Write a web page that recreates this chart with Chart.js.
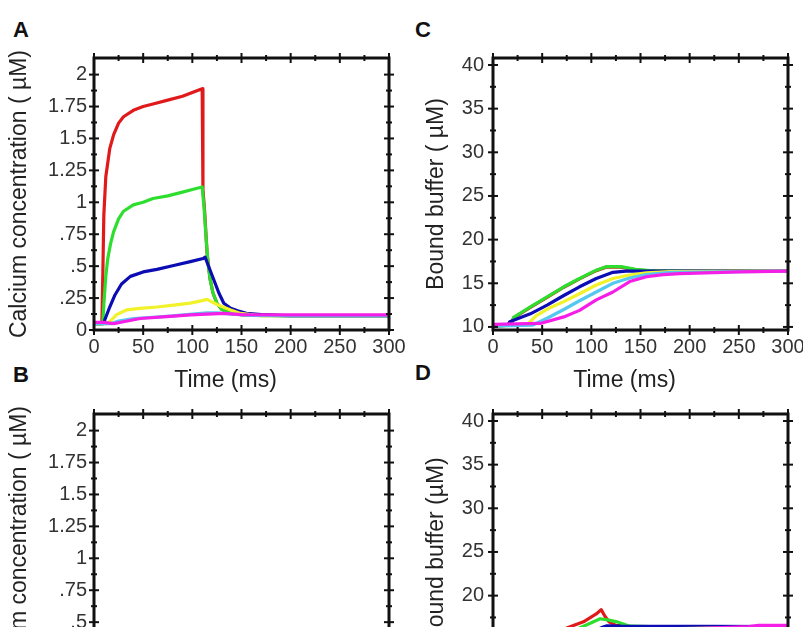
<!DOCTYPE html>
<html><head><meta charset="utf-8">
<script src="https://cdn.jsdelivr.net/npm/chart.js@4/dist/chart.umd.min.js"></script>
<style>
html,body{margin:0;padding:0;background:#fff;width:803px;height:627px;overflow:hidden;position:relative}
canvas{position:absolute}
.lbl{position:absolute;font:bold 22px "Liberation Sans",Arial,sans-serif;line-height:22px;color:#111}
</style></head><body>
<div class="lbl" style="left:13px;top:19px">A</div>
<div class="lbl" style="left:415px;top:19px">C</div>
<div class="lbl" style="left:13px;top:364px">B</div>
<div class="lbl" style="left:415px;top:362px">D</div>
<canvas id="cA" width="412" height="400" style="left:0;top:0"></canvas>
<canvas id="cC" width="415" height="400" style="left:400px;top:0"></canvas>
<canvas id="cB" width="412" height="400" style="left:0;top:356px"></canvas>
<canvas id="cD" width="415" height="400" style="left:400px;top:356px"></canvas>
<script>
// ---- tick values & labels ----
const timeTicks = [0,25,50,75,100,125,150,175,200,225,250,275,300];
const timeTickLabels = ['0','','50','','100','','150','','200','','250','','300'];
const calciumTicks = [0,0.125,0.25,0.375,0.5,0.625,0.75,0.875,1,1.125,1.25,1.375,1.5,1.625,1.75,1.875,2];
const calciumTickLabels = ['0','','.25','','.5','','.75','','1','','1.25','','1.5','','1.75','','2'];
const bufferTicks = [10,12.5,15,17.5,20,22.5,25,27.5,30,32.5,35,37.5,40];
const bufferTickLabels = ['10','','15','','20','','25','','30','','35','','40'];

// ---- Panel A: calcium concentration ----
const caRedT = [0,8,9,10,12,16,20,25,30,40,50,60,75,90,100,110,110.8,112.5,115,118,121,125,130,140,150,200,300];
const caRedV = [0.05,0.05,0.45,0.9,1.2,1.42,1.53,1.62,1.67,1.72,1.75,1.77,1.80,1.83,1.86,1.89,1.1,0.93,0.6,0.4,0.29,0.21,0.16,0.13,0.12,0.11,0.11];
const caGreenT = [0,9,10,12,14,17,20,25,30,40,50,60,75,90,100,110,112,114,116,118,121,125,130,140,150,200,300];
const caGreenV = [0.05,0.05,0.2,0.42,0.56,0.68,0.77,0.87,0.93,0.98,1.0,1.03,1.05,1.08,1.1,1.12,0.95,0.72,0.52,0.4,0.29,0.21,0.16,0.13,0.12,0.11,0.11];
const caBlueT = [0,10,11,16,21,28,37,50,64,81,98,111,113,118,123,127,132,139,146,155,170,200,300];
const caBlueV = [0.05,0.05,0.08,0.18,0.27,0.36,0.42,0.455,0.475,0.505,0.535,0.56,0.57,0.47,0.37,0.29,0.21,0.17,0.15,0.13,0.12,0.11,0.11];
const caYellowT = [0,14,16,23,33,47,64,81,98,110,115,125,139,149,170,300];
const caYellowV = [0.05,0.05,0.065,0.12,0.157,0.17,0.18,0.195,0.21,0.23,0.24,0.2,0.157,0.13,0.11,0.11];
const caCyanT = [0,18,25,40,60,80,100,115,125,140,160,200,300];
const caCyanV = [0.05,0.05,0.07,0.09,0.1,0.11,0.125,0.135,0.135,0.125,0.115,0.11,0.11];
const caMagentaT = [0,10,20,30,47,74,98,115,132,150,200,300];
const caMagentaV = [0.06,0.06,0.05,0.065,0.09,0.105,0.118,0.125,0.13,0.12,0.118,0.118];

// ---- Panel C: bound buffer ----
const buRedT = [0,18,21,38,55,72,88,105,115,130,145,160,200,300];
const buRedV = [10.1,10.2,11.05,12.25,13.4,14.55,15.5,16.45,16.85,16.85,16.55,16.4,16.4,16.4];
const buGreenT = [0,18,21,38,55,72,88,105,115,130,145,160,200,300];
const buGreenV = [10.1,10.2,11.1,12.3,13.45,14.6,15.55,16.5,16.9,16.9,16.6,16.45,16.4,16.4];
const buBlueT = [0,15,17,38,55,72,88,105,122,135,160,300];
const buBlueV = [10.1,10.2,10.6,11.5,12.5,13.6,14.6,15.55,16.25,16.4,16.4,16.4];
const buYellowT = [0,35,44,58,72,88,105,122,139,156,180,300];
const buYellowV = [10.1,10.3,11.3,12.2,12.9,13.8,14.8,15.55,15.95,16.2,16.35,16.4];
const buCyanT = [0,40,55,72,88,105,122,139,156,180,300];
const buCyanV = [10.1,10.2,11.0,12.0,13.0,14.0,15.0,15.6,16.0,16.25,16.4];
const buMagentaT = [0,48,72,88,105,122,139,156,173,190,250,300];
const buMagentaV = [10.3,10.4,11.15,11.9,13.1,14.0,15.2,15.75,16.0,16.1,16.3,16.4];

// ---- Panel D: bound buffer (second condition) ----
const bdRedT = [0,20,50,75,92,105,110,114,118,125,140,300];
const bdRedV = [10.1,11,14,16.3,17.0,17.9,18.4,17.6,17.0,16.6,16.45,16.45];
const bdGreenT = [0,25,60,88,100,109,118,126,139,160,300];
const bdGreenV = [10.1,11,14.5,16.3,16.9,17.35,17.2,17.0,16.5,16.45,16.45];
const bdBlueT = [0,30,70,100,112,116,130,300];
const bdBlueV = [10.1,11,14,15.8,16.4,16.55,16.5,16.45];
const bdYellowT = [0,40,90,130,170,300];
const bdYellowV = [10.1,10.8,13.5,15.5,16.2,16.4];
const bdCyanT = [0,45,100,140,180,300];
const bdCyanV = [10.1,10.6,13.0,15.2,16.1,16.4];
const bdMagentaT = [0,50,100,150,200,260,270,300];
const bdMagentaV = [10.1,10.5,12.5,15.0,16.2,16.45,16.6,16.6];

const colMagenta = '#f41ee6', colCyan = '#55c8f0', colYellow = '#f2f22a',
      colBlue = '#0c0cb4', colGreen = '#2ede2e', colRed = '#e01a1a';

Chart.defaults.font.family = '"Liberation Sans", Arial, Helvetica, sans-serif';
Chart.defaults.color = '#333';

function series(t, v, color) {
  return { data: t.map((x, i) => ({x: x, y: v[i]})), borderColor: color, backgroundColor: color,
           borderWidth: 3.2, pointRadius: 0, tension: 0, fill: false,
           borderCapStyle: 'round', borderJoinStyle: 'round' };
}

const framePlugin = {
  id: 'frame',
  afterDatasetsDraw(chart) {
    const {ctx, chartArea: a, scales: {x, y}} = chart;
    ctx.save();
    ctx.strokeStyle = '#111';
    ctx.lineWidth = 3;
    ctx.strokeRect(a.left, a.top, a.right - a.left, a.bottom - a.top);
    ctx.lineWidth = 2;
    const seg = (x1, y1, x2, y2) => { ctx.beginPath(); ctx.moveTo(x1, y1); ctx.lineTo(x2, y2); ctx.stroke(); };
    x.ticks.forEach(t => {
      const px = x.getPixelForValue(t.value); const L = t.label ? 5 : 3;
      seg(px, a.top - L, px, a.top + L); seg(px, a.bottom - L, px, a.bottom + L);
    });
    y.ticks.forEach(t => {
      const py = y.getPixelForValue(t.value); const L = t.label ? 5 : 3;
      seg(a.left - L, py, a.left + L, py); seg(a.right - L, py, a.right + L, py);
    });
    ctx.restore();
  }
};

function makePanel(id, datasets, p) {
  const canvas = document.getElementById(id);
  const W = canvas.width, H = canvas.height;
  new Chart(canvas, {
    type: 'line',
    data: { datasets: datasets },
    plugins: [framePlugin],
    options: {
      responsive: false, animation: false, devicePixelRatio: 1,
      layout: { padding: { left: 0, top: 58, right: W - p.right, bottom: 0 } },
      plugins: { legend: { display: false }, tooltip: { enabled: false } },
      scales: {
        x: {
          type: 'linear', min: 0, max: 300,
          afterBuildTicks: s => { s.ticks = timeTicks.map(v => ({value: v})); },
          afterFit: s => { s.height = H - 330; s.paddingLeft = 0; s.paddingRight = 0; },
          ticks: { autoSkip: false, maxRotation: 0, padding: 5, color: '#333',
                   font: { size: 20 }, callback: (v, i) => timeTickLabels[i] },
          grid: { display: false, drawTicks: false, tickLength: 0 },
          border: { display: false },
          title: { display: true, text: 'Time (ms)\u00a0\u00a0\u00a0\u00a0\u00a0', color: '#222', font: { size: 23 }, padding: { top: 0, bottom: 6 } }
        },
        y: {
          type: 'linear', min: p.yMin, max: p.yMax,
          afterBuildTicks: s => { s.ticks = p.yTicks.map(v => ({value: v})); },
          afterFit: s => { s.width = p.left; s.paddingTop = 0; s.paddingBottom = 0; },
          ticks: { autoSkip: false, padding: p.tickPad, color: '#333',
                   font: { size: 20 }, callback: (v, i) => p.yLabels[i] },
          grid: { display: false, drawTicks: false, tickLength: 0 },
          border: { display: false },
          title: { display: true, text: p.yTitle, color: '#222', font: { size: 23 }, padding: { top: p.titlePad, bottom: 0 } }
        }
      }
    }
  });
}

const calciumPanel = { left: 94, right: 389, yMin: 0, yMax: 2.13, yTicks: calciumTicks, yLabels: calciumTickLabels,
                       yTitle: 'Calcium concentration ( \u00b5M)', tickPad: 7, titlePad: 6 };
const bufferPanelC = { left: 93, right: 388, yMin: 9.65, yMax: 40.8, yTicks: bufferTicks, yLabels: bufferTickLabels,
                       yTitle: 'Bound buffer ( \u00b5M)', tickPad: 9, titlePad: 23 };
const bufferPanelD = Object.assign({}, bufferPanelC, { yTitle: 'Bound buffer (\u00b5M)' });

makePanel('cA', [
  series(caMagentaT, caMagentaV, colMagenta),
  series(caCyanT, caCyanV, colCyan),
  series(caYellowT, caYellowV, colYellow),
  series(caBlueT, caBlueV, colBlue),
  series(caGreenT, caGreenV, colGreen),
  series(caRedT, caRedV, colRed)
], calciumPanel);

makePanel('cC', [
  series(buMagentaT, buMagentaV, colMagenta),
  series(buCyanT, buCyanV, colCyan),
  series(buYellowT, buYellowV, colYellow),
  series(buBlueT, buBlueV, colBlue),
  series(buGreenT, buGreenV, colGreen),
  series(buRedT, buRedV, colRed)
], bufferPanelC);

makePanel('cB', [], calciumPanel);

makePanel('cD', [
  series(bdMagentaT, bdMagentaV, colMagenta),
  series(bdCyanT, bdCyanV, colCyan),
  series(bdYellowT, bdYellowV, colYellow),
  series(bdBlueT, bdBlueV, colBlue),
  series(bdGreenT, bdGreenV, colGreen),
  series(bdRedT, bdRedV, colRed)
], bufferPanelD);
</script>
</body></html>
